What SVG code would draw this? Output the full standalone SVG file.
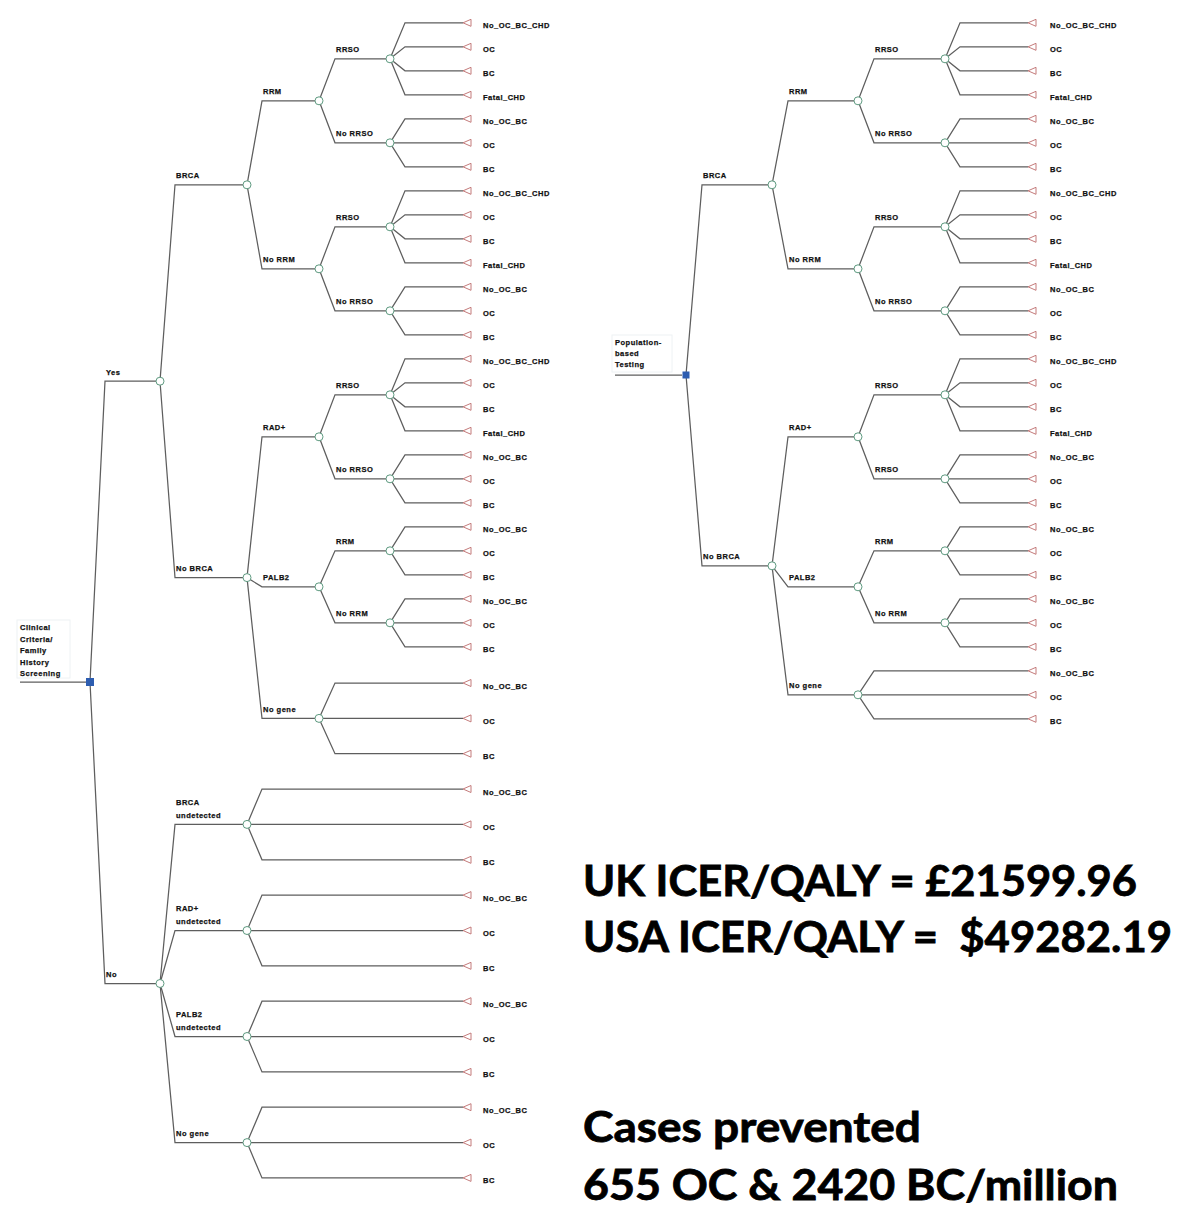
<svg xmlns="http://www.w3.org/2000/svg" xmlns:xlink="http://www.w3.org/1999/xlink" width="1190" height="1225" viewBox="0 0 1190 1225">
<style>
.l{fill:none;stroke:#5e5e5e;stroke-width:1.25}
.c{fill:#fff;stroke:#5e9a80;stroke-width:1}
.t{fill:#fff;stroke:#c47b7b;stroke-width:1}
.d{fill:#2d5db0}
.bx{fill:none;stroke:#eef2f4;stroke-width:1}
.s{font-family:"Liberation Sans",Arial,sans-serif;font-weight:bold;font-size:7.5px;letter-spacing:0.5px;fill:#111;stroke:#111;stroke-width:0.25}
.b{font-family:Lato,"Liberation Sans",Arial,sans-serif;font-weight:bold;font-size:42px;fill:#000;stroke:#000;stroke-width:0.8}
</style>
<defs>
<path id="tri" class="t" d="M0,0 L8,-3.5 L8,3.5 Z"/>
<circle id="cn" class="c" r="4"/>
</defs>
<rect width="1190" height="1225" fill="#fff"/>

<g id="connectors">
<!-- LEFT TREE -->
<path class="l" d="M20,682 L86,682"/>
<path class="l" d="M90,682 L105,381.2 L160,381.2"/>
<path class="l" d="M90,682 L105,983.5 L160,983.5"/>
<path class="l" d="M160,381.2 L175,184.8 L247,184.8"/>
<path class="l" d="M160,381.2 L175,577.6 L247,577.6"/>
<path class="l" d="M247,184.8 L262,100.8 L319,100.8"/>
<path class="l" d="M247,184.8 L262,268.8 L319,268.8"/>
<path class="l" d="M319,100.8 L335,58.8 L390,58.8"/>
<path class="l" d="M319,100.8 L335,142.8 L390,142.8"/>
<path class="l" d="M319,268.8 L335,226.8 L390,226.8"/>
<path class="l" d="M319,268.8 L335,310.8 L390,310.8"/>
<path class="l" d="M247,577.6 L262,436.8 L319,436.8"/>
<path class="l" d="M247,577.6 L262,586.8 L319,586.8"/>
<path class="l" d="M247,577.6 L262,718.4 L319,718.4"/>
<path class="l" d="M319,436.8 L335,394.8 L390,394.8"/>
<path class="l" d="M319,436.8 L335,478.8 L390,478.8"/>
<path class="l" d="M319,586.8 L335,550.8 L390,550.8"/>
<path class="l" d="M319,586.8 L335,622.8 L390,622.8"/>
<path class="l" d="M390,58.8 L405,22.8 L463,22.8 M390,58.8 L405,46.8 L463,46.8 M390,58.8 L405,70.8 L463,70.8 M390,58.8 L405,94.8 L463,94.8"/>
<path class="l" d="M390,142.8 L405,118.8 L463,118.8 M390,142.8 L463,142.8 M390,142.8 L405,166.8 L463,166.8"/>
<path class="l" d="M390,226.8 L405,190.8 L463,190.8 M390,226.8 L405,214.8 L463,214.8 M390,226.8 L405,238.8 L463,238.8 M390,226.8 L405,262.8 L463,262.8"/>
<path class="l" d="M390,310.8 L405,286.8 L463,286.8 M390,310.8 L463,310.8 M390,310.8 L405,334.8 L463,334.8"/>
<path class="l" d="M390,394.8 L405,358.8 L463,358.8 M390,394.8 L405,382.8 L463,382.8 M390,394.8 L405,406.8 L463,406.8 M390,394.8 L405,430.8 L463,430.8"/>
<path class="l" d="M390,478.8 L405,454.8 L463,454.8 M390,478.8 L463,478.8 M390,478.8 L405,502.8 L463,502.8"/>
<path class="l" d="M390,550.8 L405,526.8 L463,526.8 M390,550.8 L463,550.8 M390,550.8 L405,574.8 L463,574.8"/>
<path class="l" d="M390,622.8 L405,598.8 L463,598.8 M390,622.8 L463,622.8 M390,622.8 L405,646.8 L463,646.8"/>
<path class="l" d="M319,718.4 L335,683 L463,683 M319,718.4 L463,718.4 M319,718.4 L335,753.7 L463,753.7"/>
<path class="l" d="M160,983.5 L175,824.4 L247,824.4"/>
<path class="l" d="M160,983.5 L175,930.5 L247,930.5"/>
<path class="l" d="M160,983.5 L175,1036.5 L247,1036.5"/>
<path class="l" d="M160,983.5 L175,1142.6 L247,1142.6"/>
<path class="l" d="M247,824.4 L262,789 L463,789 M247,824.4 L463,824.4 M247,824.4 L262,859.8 L463,859.8"/>
<path class="l" d="M247,930.5 L262,895.1 L463,895.1 M247,930.5 L463,930.5 M247,930.5 L262,965.8 L463,965.8"/>
<path class="l" d="M247,1036.5 L262,1001.2 L463,1001.2 M247,1036.5 L463,1036.5 M247,1036.5 L262,1071.9 L463,1071.9"/>
<path class="l" d="M247,1142.6 L262,1107.2 L463,1107.2 M247,1142.6 L463,1142.6 M247,1142.6 L262,1177.9 L463,1177.9"/>
<!-- RIGHT TREE -->
<path class="l" d="M615,375 L682,375"/>
<path class="l" d="M686,375 L702,184.8 L772,184.8"/>
<path class="l" d="M686,375 L702,565.8 L772,565.8"/>
<path class="l" d="M772,184.8 L788,100.8 L858,100.8"/>
<path class="l" d="M772,184.8 L788,268.8 L858,268.8"/>
<path class="l" d="M858,100.8 L874,58.8 L945,58.8"/>
<path class="l" d="M858,100.8 L874,142.8 L945,142.8"/>
<path class="l" d="M858,268.8 L874,226.8 L945,226.8"/>
<path class="l" d="M858,268.8 L874,310.8 L945,310.8"/>
<path class="l" d="M772,565.8 L788,436.8 L858,436.8"/>
<path class="l" d="M772,565.8 L788,586.8 L858,586.8"/>
<path class="l" d="M772,565.8 L788,694.8 L858,694.8"/>
<path class="l" d="M858,436.8 L874,394.8 L945,394.8"/>
<path class="l" d="M858,436.8 L874,478.8 L945,478.8"/>
<path class="l" d="M858,586.8 L874,550.8 L945,550.8"/>
<path class="l" d="M858,586.8 L874,622.8 L945,622.8"/>
<path class="l" d="M945,58.8 L960,22.8 L1028,22.8 M945,58.8 L960,46.8 L1028,46.8 M945,58.8 L960,70.8 L1028,70.8 M945,58.8 L960,94.8 L1028,94.8"/>
<path class="l" d="M945,142.8 L960,118.8 L1028,118.8 M945,142.8 L1028,142.8 M945,142.8 L960,166.8 L1028,166.8"/>
<path class="l" d="M945,226.8 L960,190.8 L1028,190.8 M945,226.8 L960,214.8 L1028,214.8 M945,226.8 L960,238.8 L1028,238.8 M945,226.8 L960,262.8 L1028,262.8"/>
<path class="l" d="M945,310.8 L960,286.8 L1028,286.8 M945,310.8 L1028,310.8 M945,310.8 L960,334.8 L1028,334.8"/>
<path class="l" d="M945,394.8 L960,358.8 L1028,358.8 M945,394.8 L960,382.8 L1028,382.8 M945,394.8 L960,406.8 L1028,406.8 M945,394.8 L960,430.8 L1028,430.8"/>
<path class="l" d="M945,478.8 L960,454.8 L1028,454.8 M945,478.8 L1028,478.8 M945,478.8 L960,502.8 L1028,502.8"/>
<path class="l" d="M945,550.8 L960,526.8 L1028,526.8 M945,550.8 L1028,550.8 M945,550.8 L960,574.8 L1028,574.8"/>
<path class="l" d="M945,622.8 L960,598.8 L1028,598.8 M945,622.8 L1028,622.8 M945,622.8 L960,646.8 L1028,646.8"/>
<path class="l" d="M858,694.8 L874,670.8 L1028,670.8 M858,694.8 L1028,694.8 M858,694.8 L874,718.8 L1028,718.8"/>
</g>

<!-- LEFT TREE NODES -->
<g id="L-root">
<rect class="bx" x="17" y="620" width="53" height="58"/>
<text class="s" x="20" y="630">Clinical</text>
<text class="s" x="20" y="641.5">Criteria/</text>
<text class="s" x="20" y="653">Family</text>
<text class="s" x="20" y="664.5">History</text>
<text class="s" x="20" y="676">Screening</text>
<rect class="d" x="86" y="678" width="8" height="8"/>
</g>
<g id="L-yes"><text class="s" x="106" y="374.7">Yes</text><use href="#cn" x="160" y="381.2"/></g>
<g id="L-no"><text class="s" x="106" y="977">No</text><use href="#cn" x="160" y="983.5"/></g>
<g id="L-brca"><text class="s" x="176" y="178.3">BRCA</text><use href="#cn" x="247" y="184.8"/></g>
<g id="L-nobrca"><text class="s" x="176" y="571.1">No BRCA</text><use href="#cn" x="247" y="577.6"/></g>
<g id="L-rrm"><text class="s" x="263" y="94.3">RRM</text><use href="#cn" x="319" y="100.8"/></g>
<g id="L-norrm"><text class="s" x="263" y="262.3">No RRM</text><use href="#cn" x="319" y="268.8"/></g>
<g id="L-rrso1"><text class="s" x="336" y="52.3">RRSO</text><use href="#cn" x="390" y="58.8"/></g>
<g id="L-norrso1"><text class="s" x="336" y="136.3">No RRSO</text><use href="#cn" x="390" y="142.8"/></g>
<g id="L-rrso2"><text class="s" x="336" y="220.3">RRSO</text><use href="#cn" x="390" y="226.8"/></g>
<g id="L-norrso2"><text class="s" x="336" y="304.3">No RRSO</text><use href="#cn" x="390" y="310.8"/></g>
<g id="L-rad"><text class="s" x="263" y="430.3">RAD+</text><use href="#cn" x="319" y="436.8"/></g>
<g id="L-palb2"><text class="s" x="263" y="580.3">PALB2</text><use href="#cn" x="319" y="586.8"/></g>
<g id="L-nogene1"><text class="s" x="263" y="711.9">No gene</text><use href="#cn" x="319" y="718.4"/></g>
<g id="L-rrso3"><text class="s" x="336" y="388.3">RRSO</text><use href="#cn" x="390" y="394.8"/></g>
<g id="L-norrso3"><text class="s" x="336" y="472.3">No RRSO</text><use href="#cn" x="390" y="478.8"/></g>
<g id="L-rrm2"><text class="s" x="336" y="544.3">RRM</text><use href="#cn" x="390" y="550.8"/></g>
<g id="L-norrm2"><text class="s" x="336" y="616.3">No RRM</text><use href="#cn" x="390" y="622.8"/></g>
<g id="L-brcaund"><text class="s" x="176" y="805">BRCA</text><text class="s" x="176" y="817.5">undetected</text><use href="#cn" x="247" y="824.4"/></g>
<g id="L-radund"><text class="s" x="176" y="911">RAD+</text><text class="s" x="176" y="923.5">undetected</text><use href="#cn" x="247" y="930.5"/></g>
<g id="L-palb2und"><text class="s" x="176" y="1017">PALB2</text><text class="s" x="176" y="1029.5">undetected</text><use href="#cn" x="247" y="1036.5"/></g>
<g id="L-nogene2"><text class="s" x="176" y="1136.1">No gene</text><use href="#cn" x="247" y="1142.6"/></g>

<g id="L-terminals">
<g id="Lt1"><use href="#tri" x="463" y="22.8"/><text class="s" x="483" y="28.3">No_OC_BC_CHD</text></g>
<g id="Lt2"><use href="#tri" x="463" y="46.8"/><text class="s" x="483" y="52.3">OC</text></g>
<g id="Lt3"><use href="#tri" x="463" y="70.8"/><text class="s" x="483" y="76.3">BC</text></g>
<g id="Lt4"><use href="#tri" x="463" y="94.8"/><text class="s" x="483" y="100.3">Fatal_CHD</text></g>
<g id="Lt5"><use href="#tri" x="463" y="118.8"/><text class="s" x="483" y="124.3">No_OC_BC</text></g>
<g id="Lt6"><use href="#tri" x="463" y="142.8"/><text class="s" x="483" y="148.3">OC</text></g>
<g id="Lt7"><use href="#tri" x="463" y="166.8"/><text class="s" x="483" y="172.3">BC</text></g>
<g id="Lt8"><use href="#tri" x="463" y="190.8"/><text class="s" x="483" y="196.3">No_OC_BC_CHD</text></g>
<g id="Lt9"><use href="#tri" x="463" y="214.8"/><text class="s" x="483" y="220.3">OC</text></g>
<g id="Lt10"><use href="#tri" x="463" y="238.8"/><text class="s" x="483" y="244.3">BC</text></g>
<g id="Lt11"><use href="#tri" x="463" y="262.8"/><text class="s" x="483" y="268.3">Fatal_CHD</text></g>
<g id="Lt12"><use href="#tri" x="463" y="286.8"/><text class="s" x="483" y="292.3">No_OC_BC</text></g>
<g id="Lt13"><use href="#tri" x="463" y="310.8"/><text class="s" x="483" y="316.3">OC</text></g>
<g id="Lt14"><use href="#tri" x="463" y="334.8"/><text class="s" x="483" y="340.3">BC</text></g>
<g id="Lt15"><use href="#tri" x="463" y="358.8"/><text class="s" x="483" y="364.3">No_OC_BC_CHD</text></g>
<g id="Lt16"><use href="#tri" x="463" y="382.8"/><text class="s" x="483" y="388.3">OC</text></g>
<g id="Lt17"><use href="#tri" x="463" y="406.8"/><text class="s" x="483" y="412.3">BC</text></g>
<g id="Lt18"><use href="#tri" x="463" y="430.8"/><text class="s" x="483" y="436.3">Fatal_CHD</text></g>
<g id="Lt19"><use href="#tri" x="463" y="454.8"/><text class="s" x="483" y="460.3">No_OC_BC</text></g>
<g id="Lt20"><use href="#tri" x="463" y="478.8"/><text class="s" x="483" y="484.3">OC</text></g>
<g id="Lt21"><use href="#tri" x="463" y="502.8"/><text class="s" x="483" y="508.3">BC</text></g>
<g id="Lt22"><use href="#tri" x="463" y="526.8"/><text class="s" x="483" y="532.3">No_OC_BC</text></g>
<g id="Lt23"><use href="#tri" x="463" y="550.8"/><text class="s" x="483" y="556.3">OC</text></g>
<g id="Lt24"><use href="#tri" x="463" y="574.8"/><text class="s" x="483" y="580.3">BC</text></g>
<g id="Lt25"><use href="#tri" x="463" y="598.8"/><text class="s" x="483" y="604.3">No_OC_BC</text></g>
<g id="Lt26"><use href="#tri" x="463" y="622.8"/><text class="s" x="483" y="628.3">OC</text></g>
<g id="Lt27"><use href="#tri" x="463" y="646.8"/><text class="s" x="483" y="652.3">BC</text></g>
<g id="Lt28"><use href="#tri" x="463" y="683"/><text class="s" x="483" y="688.5">No_OC_BC</text></g>
<g id="Lt29"><use href="#tri" x="463" y="718.4"/><text class="s" x="483" y="723.9">OC</text></g>
<g id="Lt30"><use href="#tri" x="463" y="753.7"/><text class="s" x="483" y="759.2">BC</text></g>
<g id="Lt31"><use href="#tri" x="463" y="789"/><text class="s" x="483" y="794.5">No_OC_BC</text></g>
<g id="Lt32"><use href="#tri" x="463" y="824.4"/><text class="s" x="483" y="829.9">OC</text></g>
<g id="Lt33"><use href="#tri" x="463" y="859.8"/><text class="s" x="483" y="865.3">BC</text></g>
<g id="Lt34"><use href="#tri" x="463" y="895.1"/><text class="s" x="483" y="900.6">No_OC_BC</text></g>
<g id="Lt35"><use href="#tri" x="463" y="930.5"/><text class="s" x="483" y="936">OC</text></g>
<g id="Lt36"><use href="#tri" x="463" y="965.8"/><text class="s" x="483" y="971.3">BC</text></g>
<g id="Lt37"><use href="#tri" x="463" y="1001.2"/><text class="s" x="483" y="1006.7">No_OC_BC</text></g>
<g id="Lt38"><use href="#tri" x="463" y="1036.5"/><text class="s" x="483" y="1042">OC</text></g>
<g id="Lt39"><use href="#tri" x="463" y="1071.9"/><text class="s" x="483" y="1077.4">BC</text></g>
<g id="Lt40"><use href="#tri" x="463" y="1107.2"/><text class="s" x="483" y="1112.7">No_OC_BC</text></g>
<g id="Lt41"><use href="#tri" x="463" y="1142.6"/><text class="s" x="483" y="1148.1">OC</text></g>
<g id="Lt42"><use href="#tri" x="463" y="1177.9"/><text class="s" x="483" y="1183.4">BC</text></g>
</g>

<!-- RIGHT TREE NODES -->
<g id="R-root">
<rect class="bx" x="612" y="335" width="60" height="37"/>
<text class="s" x="615" y="345">Population-</text>
<text class="s" x="615" y="356">based</text>
<text class="s" x="615" y="367">Testing</text>
<rect class="d" x="682.5" y="371.5" width="7" height="7"/>
</g>
<g id="R-brca"><text class="s" x="703" y="178.3">BRCA</text><use href="#cn" x="772" y="184.8"/></g>
<g id="R-nobrca"><text class="s" x="703" y="559.3">No BRCA</text><use href="#cn" x="772" y="565.8"/></g>
<g id="R-rrm"><text class="s" x="789" y="94.3">RRM</text><use href="#cn" x="858" y="100.8"/></g>
<g id="R-norrm"><text class="s" x="789" y="262.3">No RRM</text><use href="#cn" x="858" y="268.8"/></g>
<g id="R-rrso1"><text class="s" x="875" y="52.3">RRSO</text><use href="#cn" x="945" y="58.8"/></g>
<g id="R-norrso1"><text class="s" x="875" y="136.3">No RRSO</text><use href="#cn" x="945" y="142.8"/></g>
<g id="R-rrso2"><text class="s" x="875" y="220.3">RRSO</text><use href="#cn" x="945" y="226.8"/></g>
<g id="R-norrso2"><text class="s" x="875" y="304.3">No RRSO</text><use href="#cn" x="945" y="310.8"/></g>
<g id="R-rad"><text class="s" x="789" y="430.3">RAD+</text><use href="#cn" x="858" y="436.8"/></g>
<g id="R-palb2"><text class="s" x="789" y="580.3">PALB2</text><use href="#cn" x="858" y="586.8"/></g>
<g id="R-nogene"><text class="s" x="789" y="688.3">No gene</text><use href="#cn" x="858" y="694.8"/></g>
<g id="R-rrso3"><text class="s" x="875" y="388.3">RRSO</text><use href="#cn" x="945" y="394.8"/></g>
<g id="R-rrso4"><text class="s" x="875" y="472.3">RRSO</text><use href="#cn" x="945" y="478.8"/></g>
<g id="R-rrm2"><text class="s" x="875" y="544.3">RRM</text><use href="#cn" x="945" y="550.8"/></g>
<g id="R-norrm2"><text class="s" x="875" y="616.3">No RRM</text><use href="#cn" x="945" y="622.8"/></g>

<g id="R-terminals">
<g id="Rt1"><use href="#tri" x="1028" y="22.8"/><text class="s" x="1050" y="28.3">No_OC_BC_CHD</text></g>
<g id="Rt2"><use href="#tri" x="1028" y="46.8"/><text class="s" x="1050" y="52.3">OC</text></g>
<g id="Rt3"><use href="#tri" x="1028" y="70.8"/><text class="s" x="1050" y="76.3">BC</text></g>
<g id="Rt4"><use href="#tri" x="1028" y="94.8"/><text class="s" x="1050" y="100.3">Fatal_CHD</text></g>
<g id="Rt5"><use href="#tri" x="1028" y="118.8"/><text class="s" x="1050" y="124.3">No_OC_BC</text></g>
<g id="Rt6"><use href="#tri" x="1028" y="142.8"/><text class="s" x="1050" y="148.3">OC</text></g>
<g id="Rt7"><use href="#tri" x="1028" y="166.8"/><text class="s" x="1050" y="172.3">BC</text></g>
<g id="Rt8"><use href="#tri" x="1028" y="190.8"/><text class="s" x="1050" y="196.3">No_OC_BC_CHD</text></g>
<g id="Rt9"><use href="#tri" x="1028" y="214.8"/><text class="s" x="1050" y="220.3">OC</text></g>
<g id="Rt10"><use href="#tri" x="1028" y="238.8"/><text class="s" x="1050" y="244.3">BC</text></g>
<g id="Rt11"><use href="#tri" x="1028" y="262.8"/><text class="s" x="1050" y="268.3">Fatal_CHD</text></g>
<g id="Rt12"><use href="#tri" x="1028" y="286.8"/><text class="s" x="1050" y="292.3">No_OC_BC</text></g>
<g id="Rt13"><use href="#tri" x="1028" y="310.8"/><text class="s" x="1050" y="316.3">OC</text></g>
<g id="Rt14"><use href="#tri" x="1028" y="334.8"/><text class="s" x="1050" y="340.3">BC</text></g>
<g id="Rt15"><use href="#tri" x="1028" y="358.8"/><text class="s" x="1050" y="364.3">No_OC_BC_CHD</text></g>
<g id="Rt16"><use href="#tri" x="1028" y="382.8"/><text class="s" x="1050" y="388.3">OC</text></g>
<g id="Rt17"><use href="#tri" x="1028" y="406.8"/><text class="s" x="1050" y="412.3">BC</text></g>
<g id="Rt18"><use href="#tri" x="1028" y="430.8"/><text class="s" x="1050" y="436.3">Fatal_CHD</text></g>
<g id="Rt19"><use href="#tri" x="1028" y="454.8"/><text class="s" x="1050" y="460.3">No_OC_BC</text></g>
<g id="Rt20"><use href="#tri" x="1028" y="478.8"/><text class="s" x="1050" y="484.3">OC</text></g>
<g id="Rt21"><use href="#tri" x="1028" y="502.8"/><text class="s" x="1050" y="508.3">BC</text></g>
<g id="Rt22"><use href="#tri" x="1028" y="526.8"/><text class="s" x="1050" y="532.3">No_OC_BC</text></g>
<g id="Rt23"><use href="#tri" x="1028" y="550.8"/><text class="s" x="1050" y="556.3">OC</text></g>
<g id="Rt24"><use href="#tri" x="1028" y="574.8"/><text class="s" x="1050" y="580.3">BC</text></g>
<g id="Rt25"><use href="#tri" x="1028" y="598.8"/><text class="s" x="1050" y="604.3">No_OC_BC</text></g>
<g id="Rt26"><use href="#tri" x="1028" y="622.8"/><text class="s" x="1050" y="628.3">OC</text></g>
<g id="Rt27"><use href="#tri" x="1028" y="646.8"/><text class="s" x="1050" y="652.3">BC</text></g>
<g id="Rt28"><use href="#tri" x="1028" y="670.8"/><text class="s" x="1050" y="676.3">No_OC_BC</text></g>
<g id="Rt29"><use href="#tri" x="1028" y="694.8"/><text class="s" x="1050" y="700.3">OC</text></g>
<g id="Rt30"><use href="#tri" x="1028" y="718.8"/><text class="s" x="1050" y="724.3">BC</text></g>
</g>

<g id="results">
<text class="b" x="583" y="896" textLength="554" lengthAdjust="spacingAndGlyphs">UK ICER/QALY = £21599.96</text>
<text class="b" x="583" y="952" textLength="589" lengthAdjust="spacingAndGlyphs" xml:space="preserve">USA ICER/QALY =  $49282.19</text>
<text class="b" x="583" y="1142" textLength="338" lengthAdjust="spacingAndGlyphs">Cases prevented</text>
<text class="b" x="583" y="1200" textLength="535" lengthAdjust="spacingAndGlyphs">655 OC &amp; 2420 BC/million</text>
</g>
</svg>
